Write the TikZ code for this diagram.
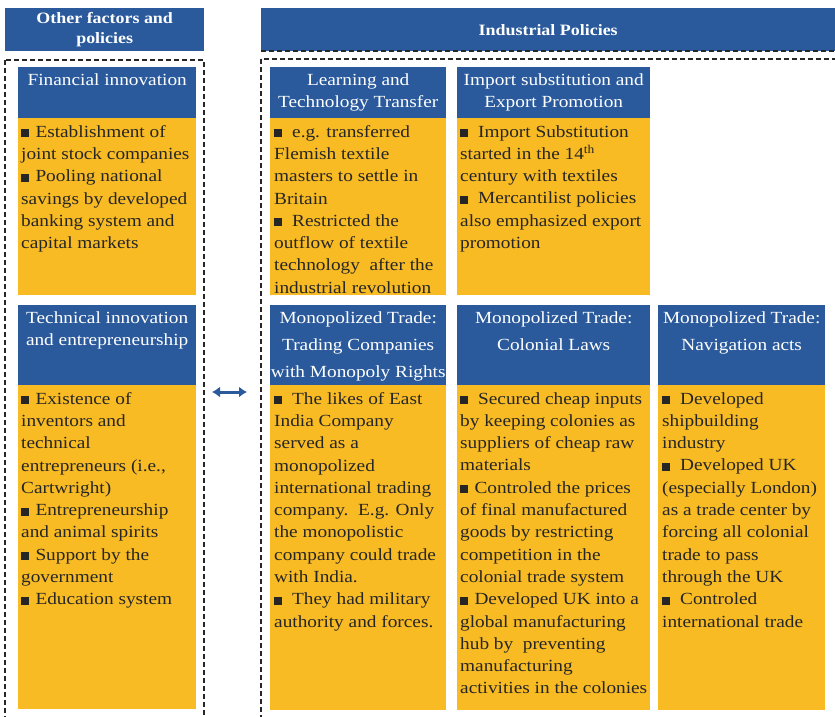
\documentclass[tikz,border=0pt]{standalone}
\usepackage{fontspec}
\setmainfont{Liberation Serif}[FakeStretch=1.135]
\usepackage{tikz}
\usetikzlibrary{arrows.meta,positioning}
\definecolor{cBlue}{HTML}{2A5A9C}
\definecolor{cGold}{HTML}{F8BB24}
\definecolor{cInk}{HTML}{262626}
\newcommand{\sqb}{\rule{0.47em}{0.47em}\kern1.5pt}

\begin{document}
\begin{tikzpicture}[x=1pt,y=-1pt,
  hdbox/.style={fill=cBlue,text=white,align=center,inner sep=0pt,anchor=north west,
    font=\bfseries\fontsize{15.8}{20}\selectfont},
  bluebox/.style={fill=cBlue,inner sep=0pt,anchor=north west},
  goldbox/.style={fill=cGold,inner sep=0pt,anchor=north west},
  ttl/.style={text=white,align=center,inner sep=0pt,anchor=north,
    font=\fontsize{17}{22}\selectfont},
  ttlwide/.style={ttl,font=\fontsize{17}{27}\selectfont},
  body/.style={text=cInk,align=left,inner sep=0pt,anchor=north west,
    font=\fontsize{17}{22.3}\selectfont},
  frame/.style={draw=cInk,line width=1.6pt,dash pattern=on 5pt off 3pt},
  dbl/.style={cBlue,line width=3pt,{Latex[length=8pt,width=11pt]}-{Latex[length=8pt,width=11pt]}}]
  \useasboundingbox (0,0) rectangle (835,716);

  % headers
  \node[hdbox,minimum width=199pt,minimum height=43pt] (hdOther) at (5,8) {Other factors and\\policies};
  \node[hdbox,minimum width=574pt,minimum height=43pt] (hdInd) at (261,8) {Industrial Policies};

  % dashed frames
  \draw[frame] (5,60) rectangle (204,740);
  \draw[frame] (261,59) rectangle (860,740);
  \draw[frame] (261,51) -- (835,51);

  % row 1 boxes
  \foreach \n/\x/\w in {fin/18/178,learn/270/176,imp/457/193}{
    \node[bluebox,minimum width=\w pt,minimum height=51pt] (\n) at (\x,67) {};
    \node[goldbox,minimum width=\w pt,minimum height=177pt] (\n Y) at (\x,118) {};}
  % row 2 boxes
  \foreach \n/\x/\w/\h in {tech/18/178/324,comp/270/176/325,colon/457/193/325,navi/658/167/325}{
    \node[bluebox,minimum width=\w pt,minimum height=80pt] (\n) at (\x,305) {};
    \node[goldbox,minimum width=\w pt,minimum height=\h pt] (\n Y) at (\x,385) {};}

  % titles
  \node[ttl,below=6pt of fin.north] (finT) {Financial innovation};
  \node[ttl,below=6pt of learn.north] (learnT) {Learning and\\Technology Transfer};
  \node[ttl,below=6pt of imp.north] (impT) {Import substitution and\\Export Promotion};
  \node[ttl,below=6pt of tech.north] (techT) {Technical innovation\\and entrepreneurship};
  \node[ttlwide,below=6pt of comp.north] (compT) {Monopolized Trade:\\Trading Companies\\with Monopoly Rights};
  \node[ttlwide,below=6pt of colon.north] (colonT) {Monopolized Trade:\\Colonial Laws};
  \node[ttlwide,below=6pt of navi.north] (naviT) {Monopolized Trade:\\Navigation acts};

  % texts
  \node[body,below right=7pt and 3pt of finY.north west] (finB)
    {\sqb\ Establishment of\\joint stock companies\\\sqb\ Pooling national\\savings by developed\\banking system and\\capital markets};
  \node[body,below right=7pt and 4pt of learnY.north west] (learnB)
    {\sqb\enspace e.g. transferred\\Flemish textile\\masters to settle in\\Britain\\\sqb\enspace Restricted the\\outflow of textile\\technology\ \ after the\\industrial revolution};
  \node[body,below right=7pt and 3pt of impY.north west] (impB)
    {\sqb\enspace Import Substitution\\started in the 14\textsuperscript{th}\\century with textiles\\\sqb\enspace Mercantilist policies\\also emphasized export\\promotion};
  \node[body,below right=7pt and 3pt of techY.north west] (techB)
    {\sqb\ Existence of\\inventors and\\technical\\entrepreneurs (i.e.,\\Cartwright)\\\sqb\ Entrepreneurship\\and animal spirits\\\sqb\ Support by the\\government\\\sqb\ Education system};
  \node[body,below right=7pt and 4pt of compY.north west] (compB)
    {\sqb\enspace The likes of East\\India Company\\served as a\\monopolized\\international trading\\company.\ \ E.g. Only\\the monopolistic\\company could trade\\with India.\\\sqb\enspace They had military\\authority and forces.};
  \node[body,below right=7pt and 3pt of colonY.north west] (colonB)
    {\sqb\enspace Secured cheap inputs\\by keeping colonies as\\suppliers of cheap raw\\materials\\\sqb\ Controled the prices\\of final manufactured\\goods by restricting\\competition in the\\colonial trade system\\\sqb\ Developed UK into a\\global manufacturing\\hub by\ \ preventing\\manufacturing\\activities in the colonies};
  \node[body,below right=7pt and 4pt of naviY.north west] (naviB)
    {\sqb\enspace Developed\\shipbuilding\\industry\\\sqb\enspace Developed UK\\(especially London)\\as a trade center by\\forcing all colonial\\trade to pass\\through the UK\\\sqb\enspace Controled\\international trade};

  % link between the two groups
  \coordinate (arrL) at (212,392);
  \coordinate (arrR) at (247,392);
  \draw[dbl] (arrL) -- (arrR);
\end{tikzpicture}
\end{document}
